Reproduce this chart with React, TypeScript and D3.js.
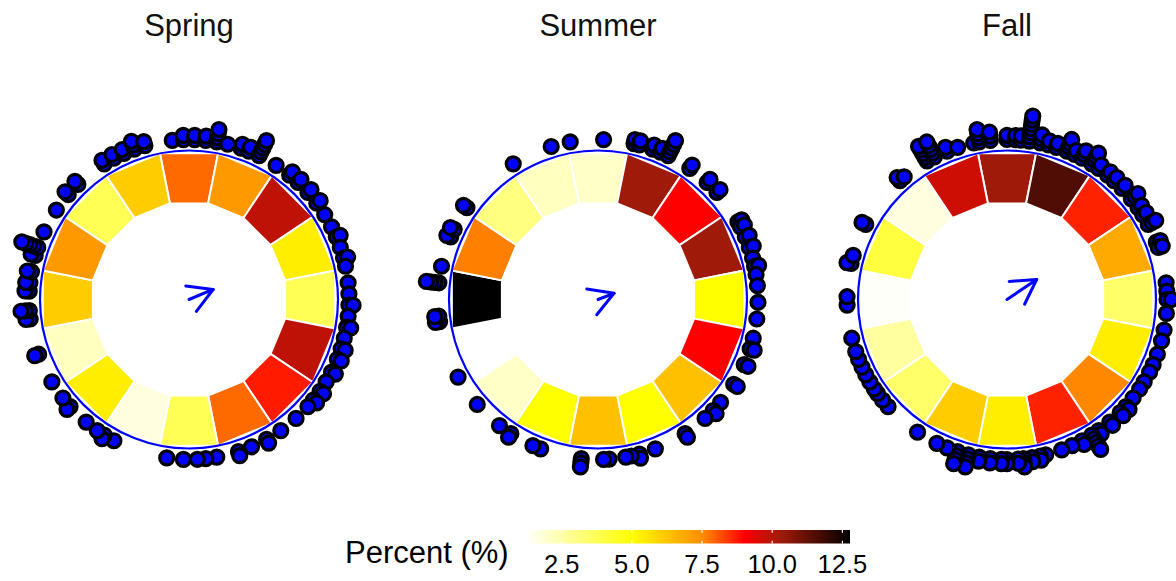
import React from "react";
import * as d3 from "d3";

// ---------- data ----------
const seasons = ["Spring", "Summer", "Fall"];

// percent of observations in each of 16 direction sectors (clockwise from north)
const springPercent = [7.86, 7.22, 9.88, 5.37, 3.74, 9.88, 8.72, 7.86, 3.74, 1.69, 5.37, 2.16, 6.1, 7.22, 3.74, 6.1];
const summerPercent = [2.04, 10.3, 9.0, 10.3, 5.0, 9.0, 6.37, 5.0, 6.37, 5.0, 2.04, 1.23, 12.77, 7.63, 3.11, 2.16];
const fallPercent = [10.3, 11.53, 8.64, 6.85, 3.43, 5.37, 7.54, 8.64, 5.37, 6.1, 3.43, 2.63, 1.3, 4.06, 1.69, 9.7];

// observations: [bearing in degrees, number stacked]
const springObs: [number, number][] = [
  [354, 1], [358, 2], [2, 2], [6, 2], [10, 4], [14, 1], [19, 2], [22, 2], [26, 5], [33, 1], [39, 2], [43, 2],
  [48, 2], [53, 2], [58, 1], [63, 1], [67, 2], [71, 1], [75, 2], [78, 1], [84, 1], [88, 1], [92, 2], [96, 1],
  [100, 2], [104, 1], [108, 2], [112, 2], [117, 2], [121, 1], [125, 2], [129, 2], [132, 1], [138, 1], [145, 1],
  [151, 2], [157, 1], [162, 2], [170, 1], [174, 1], [177, 1], [182, 1], [188, 1], [208, 1], [212, 2], [215, 1],
  [220, 1], [228, 2], [232, 1], [239, 1], [250, 2], [263, 2], [266, 3], [273, 2], [276, 2], [280, 2], [286, 2],
  [289, 5], [295, 1], [304, 1], [311, 2], [316, 2], [328, 2], [332, 2], [336, 2], [340, 3], [344, 2],
];
const summerObs: [number, number][] = [
  [343, 1], [350, 1], [2, 1], [13, 2], [15, 2], [20, 2], [23, 2], [26, 5], [35, 2], [43, 2], [48, 2], [61, 2],
  [63, 2], [67, 2], [71, 2], [75, 1], [78, 2], [81, 1], [85, 1], [91, 1], [97, 1], [104, 1], [108, 2], [114, 2],
  [122, 2], [130, 1], [134, 2], [138, 1], [147, 2], [159, 1], [165, 2], [168, 1], [170, 1], [176, 1], [178, 1],
  [186, 3], [201, 1], [204, 1], [213, 2], [218, 1], [229, 1], [241, 1], [262, 2], [264, 2], [276, 4], [282, 1],
  [293, 2], [296, 2], [305, 2], [328, 1],
];
const fallObs: [number, number][] = [
  [0, 2], [3, 2], [5, 2], [8, 7], [12, 3], [15, 2], [18, 2], [22, 4], [25, 2], [28, 3], [32, 4], [35, 2], [39, 2],
  [42, 2], [46, 2], [51, 3], [55, 2], [58, 2], [62, 3], [69, 2], [71, 2], [84, 1], [87, 1], [90, 2], [95, 1],
  [101, 1], [105, 1], [110, 1], [114, 1], [117, 1], [121, 1], [124, 1], [128, 1], [132, 2], [135, 2], [140, 2],
  [145, 2], [148, 5], [152, 2], [156, 1], [160, 1], [166, 1], [168, 2], [171, 2], [174, 3], [176, 2], [180, 2],
  [182, 2], [186, 2], [190, 2], [194, 4], [198, 4], [202, 1], [206, 1], [214, 1], [228, 1], [231, 1], [234, 1],
  [236, 1], [239, 1], [242, 1], [245, 1], [248, 1], [251, 1], [256, 1], [268, 1], [271, 1], [283, 2], [286, 1],
  [298, 2], [318, 2], [320, 1], [330, 5], [333, 5], [338, 2], [342, 1], [348, 1], [350, 4], [354, 3],
];

// mean direction (degrees) and mean resultant length
const meanDirection = [67.4, 68.8, 56];
const meanLength = [0.175, 0.115, 0.24];

const legendTicks = [2.5, 5.0, 7.5, 10.0, 12.5];
const colorStops = [1.23, 5.0, 7.5, 9.0, 10.3, 12.77];
const colorRange = ["#FFFFFF", "#FFFF00", "#FF8C00", "#FF0000", "#A01A0A", "#000000"];

const percents = [springPercent, summerPercent, fallPercent];
const observations = [springObs, summerObs, fallObs];

// ---------- layout ----------
const W = 1176;
const H = 581;
const CY = 299.5;
const R_OUT = 149;
const R_IN = 98;
const FONT = "'Liberation Sans', Arial, Helvetica, sans-serif";

const color = d3
  .scaleLinear<string>()
  .domain(colorStops)
  .range(colorRange)
  .interpolate(d3.interpolateRgb)
  .clamp(true);

const panelX = d3.scalePoint<string>().domain(seasons).range([189, 1007]);
const sectorAngle = d3.scaleLinear().domain([0, 16]).range([0, 2 * Math.PI]);
const radial = d3.scaleLinear().domain([0, 1]).range([0, R_OUT]);
const stackR = d3.scaleLinear().domain([0, 1]).range([160, 164.2]);
const legendX = d3.scaleLinear().domain([colorStops[0], colorStops[colorStops.length - 1]]).range([526, 850]);

const polar = (cx: number, r: number, a: number): [number, number] => [cx + r * Math.sin(a), CY - r * Math.cos(a)];

function Panel({ idx }: { idx: number }) {
  const name = seasons[idx];
  const cx = panelX(name) as number;
  const vals = percents[idx];
  const obs = observations[idx];
  const line = d3.line();

  const sectors = vals.map((v, i) => {
    const a0 = sectorAngle(i - 0.5);
    const a1 = sectorAngle(i + 0.5);
    const pts = [polar(cx, R_IN, a0), polar(cx, R_OUT, a0), polar(cx, R_OUT, a1), polar(cx, R_IN, a1)];
    return <path key={i} d={line(pts) + "Z"} fill={color(v)} stroke="#FFFFFF" strokeWidth={2} />;
  });

  const dots: JSX.Element[] = [];
  obs.forEach(([deg, n], j) => {
    const a = (deg * Math.PI) / 180;
    for (let k = 0; k < n; k++) {
      const [x, y] = polar(cx, stackR(k), a);
      dots.push(<circle key={j + "-" + k} cx={x} cy={y} r={7} fill="#0000FF" stroke="#000" strokeWidth={3.2} />);
    }
  });

  const dir = (meanDirection[idx] * Math.PI) / 180;
  const [tx, ty] = polar(cx, radial(meanLength[idx]), dir);
  const headLen = 27.5;
  const back = dir + Math.PI;
  const h1 = [tx + headLen * Math.sin(back + Math.PI / 6), ty - headLen * Math.cos(back + Math.PI / 6)];
  const h2 = [tx + headLen * Math.sin(back - Math.PI / 6), ty - headLen * Math.cos(back - Math.PI / 6)];

  return (
    <g>
      <text x={cx} y={36} textAnchor="middle" fontFamily={FONT} fontSize={31} fill="#111">
        {name}
      </text>
      {sectors}
      <circle cx={cx} cy={CY} r={R_OUT} fill="none" stroke="#0000FF" strokeWidth={2.2} />
      <g stroke="#0000FF" strokeWidth={3} strokeLinecap="round" fill="none">
        <line x1={cx} y1={CY} x2={tx} y2={ty} />
        <line x1={tx} y1={ty} x2={h1[0]} y2={h1[1]} />
        <line x1={tx} y1={ty} x2={h2[0]} y2={h2[1]} />
      </g>
      {dots}
    </g>
  );
}

function Legend() {
  const [d0, d1] = legendX.domain();
  const x0 = legendX(d0);
  const x1 = legendX(d1);
  const y0 = 530;
  const bh = 13.5;
  return (
    <g>
      <defs>
        <linearGradient id="pctGrad" x1="0" x2="1" y1="0" y2="0">
          {colorStops.map((s, i) => (
            <stop key={i} offset={(s - d0) / (d1 - d0)} stopColor={colorRange[i]} />
          ))}
        </linearGradient>
      </defs>
      <text x={345} y={563} fontFamily={FONT} fontSize={31} fill="#000">
        Percent (%)
      </text>
      <rect x={x0} y={y0} width={x1 - x0} height={bh} fill="url(#pctGrad)" />
      {legendTicks.map((t) => (
        <g key={t}>
          <line x1={legendX(t)} x2={legendX(t)} y1={y0} y2={y0 + 2.7} stroke="#fff" strokeWidth={1.2} />
          <line x1={legendX(t)} x2={legendX(t)} y1={y0 + bh - 2.7} y2={y0 + bh} stroke="#fff" strokeWidth={1.2} />
          <text x={legendX(t)} y={573} textAnchor="middle" fontFamily={FONT} fontSize={25.5} fill="#000">
            {t.toFixed(1)}
          </text>
        </g>
      ))}
    </g>
  );
}

export default function App() {
  return (
    <>
      <style>{`body{margin:0;}`}</style>
      <svg width={W} height={H} style={{ display: "block", background: "#fff" }}>
        {seasons.map((s, i) => (
          <Panel key={s} idx={i} />
        ))}
        <Legend />
      </svg>
    </>
  );
}
